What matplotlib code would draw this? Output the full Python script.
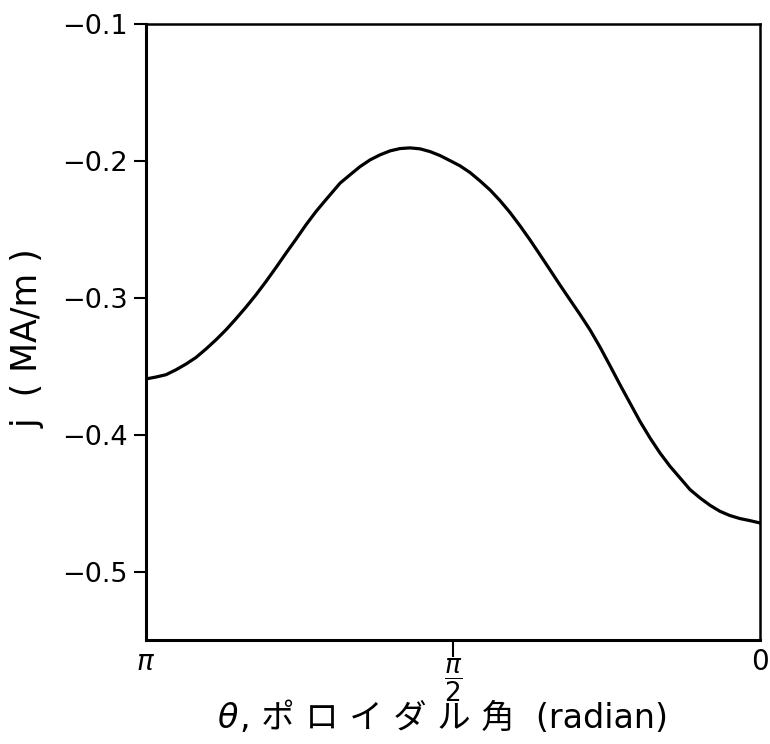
import numpy as np
import matplotlib
matplotlib.use("Agg")
import matplotlib.pyplot as plt

plt.rcParams['font.family'] = ['DejaVu Sans', 'Noto Sans CJK JP']
plt.rcParams['mathtext.fontset'] = 'dejavusans'

# poloidal angle theta (rad) and current density j (MA/m)
theta = [3.1416, 3.0904, 3.0393, 2.9881, 2.9369, 2.8858, 2.8346, 2.7834,
         2.7323, 2.6811, 2.6299, 2.5788, 2.5276, 2.4764, 2.4253, 2.3741,
         2.3229, 2.2718, 2.2308, 2.1490, 2.0978, 2.0466, 1.9955, 1.9443,
         1.8931, 1.8420, 1.7908, 1.7396, 1.6885, 1.6373, 1.5861, 1.5350,
         1.4838, 1.4326, 1.3815, 1.3303, 1.2791, 1.2280, 1.1768, 1.1256,
         1.0745, 1.0233, 0.9721, 0.9210, 0.8698, 0.8186, 0.7675, 0.7163,
         0.6652, 0.6140, 0.5628, 0.5117, 0.4605, 0.4093, 0.3582, 0.3070,
         0.2558, 0.2047, 0.1535, 0.1023, 0.0512, 0.0]
j = [-0.3593, -0.3579, -0.3562, -0.3526, -0.3484, -0.3436, -0.3374, -0.3307,
     -0.3234, -0.3153, -0.3068, -0.2978, -0.2881, -0.2779, -0.2674, -0.2572,
     -0.2467, -0.2370, -0.2300, -0.2163, -0.2102, -0.2042, -0.1993, -0.1956,
     -0.1927, -0.1910, -0.1905, -0.1912, -0.1932, -0.1961, -0.1998, -0.2036,
     -0.2085, -0.2146, -0.2212, -0.2290, -0.2377, -0.2474, -0.2577, -0.2686,
     -0.2796, -0.2907, -0.3015, -0.3122, -0.3234, -0.3360, -0.3496, -0.3635,
     -0.3769, -0.3903, -0.4024, -0.4134, -0.4231, -0.4316, -0.4401, -0.4462,
     -0.4516, -0.4560, -0.4591, -0.4613, -0.4628, -0.4645]

y_ticks = [-0.1, -0.2, -0.3, -0.4, -0.5]
y_tick_labels = ['\u22120.1', '\u22120.2', '\u22120.3', '\u22120.4', '\u22120.5']
x_major = [np.pi / 2]
x_major_labels = [r'$\dfrac{\pi}{2}$']
x_minor = [np.pi, 0.0]
x_minor_labels = [r'$\pi$', '0']

fig = plt.figure(figsize=(7.7, 7.44), dpi=100)
ax = fig.add_axes([146 / 770, 1 - 640 / 744, (760 - 146) / 770, (640 - 24) / 744])

ax.plot(theta, j, color='black', lw=2.3, solid_capstyle='round')

ax.set_xlim(np.pi, 0)
ax.set_ylim(-0.55, -0.1)

ax.set_yticks(y_ticks, labels=y_tick_labels)
ax.set_xticks(x_major, labels=x_major_labels)
ax.set_xticks(x_minor, labels=x_minor_labels, minor=True)

ax.tick_params(axis='y', which='major', direction='out', length=9, width=1.5,
               labelsize=19.5, pad=4)
ax.tick_params(axis='x', which='major', direction='out', length=12, width=1.5,
               labelsize=19, pad=0)
ax.tick_params(axis='x', which='minor', direction='out', length=0,
               labelsize=20, pad=6)

for side in ['left', 'bottom']:
    ax.spines[side].set_linewidth(2.2)
for side in ['top', 'right']:
    ax.spines[side].set_linewidth(1.8)

ax.set_ylabel('j  ( MA/m )', fontsize=25)
ax.yaxis.set_label_coords(-0.165, 0.49)

# x label: italic theta followed by the rest of the text
xlab_rest = ', ポ ロ イ ダ ル 角  (radian)'
yc = 1 - 719 / 744
rest = fig.text(0.5, yc, xlab_rest, fontsize=24, ha='left', va='center')
fig.canvas.draw()
bb = rest.get_window_extent()
W = fig.bbox.width
th_w = 20
total = bb.width + th_w
x0 = 444 - total / 2
rest.set_x((x0 + th_w) / W)
fig.text((x0 + th_w - 1) / W, yc, r'$\theta$', fontsize=24,
         ha='right', va='center')

fig.savefig('out.png', dpi=100)
